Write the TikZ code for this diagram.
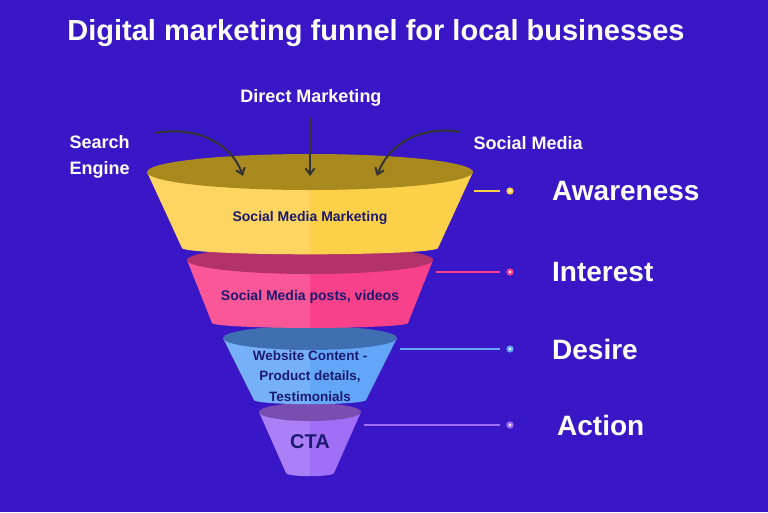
\documentclass[tikz,border=0pt]{standalone}
\usepackage{fontspec}
\setmainfont{Liberation Sans}
\usetikzlibrary{arrows.meta}
\definecolor{bg}{HTML}{3A17C6}
\definecolor{ink}{HTML}{1C1A6E}
\definecolor{yeltop}{HTML}{A8891E}
\definecolor{yelbody}{HTML}{FDD04A}
\definecolor{pinktop}{HTML}{B4326A}
\definecolor{pinkbody}{HTML}{F9408A}
\definecolor{bluetop}{HTML}{3F6FB0}
\definecolor{bluebody}{HTML}{63A6F8}
\definecolor{purptop}{HTML}{7A4DB0}
\definecolor{purpbody}{HTML}{A06FF5}
\tikzset{
  stagetext/.style={text=white,font=\bfseries\fontsize{28}{30}\selectfont,anchor=west,inner sep=0pt},
  sourcetext/.style={text=white,font=\bfseries\fontsize{18}{26}\selectfont},
  layertext/.style={text=ink,font=\bfseries\fontsize{14}{19}\selectfont,align=center},
  feed/.style={draw=black!80,line width=2pt,-{Straight Barb[length=6pt,width=9pt]}},
}
\newcommand{\funnelpart}[8]{% cx, ytop, rtop, rbot, ybot, ry, topcolor, bodycolor
  \fill[#8] (#1-#3,#2) -- (#1-#4,#5) arc[start angle=180,end angle=0,x radius=#4,y radius=#6*0.35] -- (#1+#3,#2) -- cycle;
  \fill[white,opacity=0.12] (#1-#3,#2) -- (#1-#4,#5) arc[start angle=180,end angle=90,x radius=#4,y radius=#6*0.35] -- (#1,#2+#6) -- cycle;
  \fill[#7] (#1,#2) ellipse[x radius=#3,y radius=#6];
}
\begin{document}
\begin{tikzpicture}[x=1pt,y=-1pt]
\fill[bg] (0,0) rectangle (768,512);
\useasboundingbox (0,0) rectangle (768,512);
\node[text=white,font=\bfseries\fontsize{29}{32}\selectfont] (title) at (376,33) {Digital marketing funnel for local businesses};
% funnel, bottom layer first
\funnelpart{310}{412}{51}{24}{473}{9}{purptop}{purpbody}
\funnelpart{310}{338}{87}{56}{400}{12}{bluetop}{bluebody}
\funnelpart{310}{260}{123}{98}{323}{14}{pinktop}{pinkbody}
\funnelpart{310}{172}{163}{128}{248}{18}{yeltop}{yelbody}
\node[layertext] (smm) at (310,218) {Social Media Marketing};
\node[layertext] (posts) at (310,297) {Social Media posts, videos};
\node[layertext,font=\bfseries\fontsize{13.5}{20.5}\selectfont] (web) at (310,376) {Website Content -\\Product details,\\Testimonials};
\node[layertext,font=\bfseries\fontsize{20}{22}\selectfont] (cta) at (310,442) {CTA};
% sources
\node[sourcetext,align=left,anchor=west] (search) at (66,157) {Search\\Engine};
\node[sourcetext] (direct) at (311,98) {Direct Marketing};
\node[sourcetext,anchor=west] (social) at (470,143) {Social Media};
\coordinate (in1) at (243,176);
\coordinate (in2) at (310,176);
\coordinate (in3) at (377,176);
\draw[feed] (155,133) to[out=10,in=110] (in1);
\draw[feed] (310,118) -- (in2);
\draw[feed] (460,132) to[out=170,in=70] (in3);
% stages
\foreach \y/\c/\xs/\name/\txt/\xt in {191/yelbody/474/aw/Awareness/552, 272/pinkbody/436/in/Interest/552, 349/bluebody/400/de/Desire/552, 425/purpbody/364/ac/Action/557}{
  \draw[\c,line width=1.3pt] (\xs,\y) -- (500,\y);
  \fill[\c] (510,\y) circle[radius=3.6];
  \fill[white] (510,\y) circle[radius=1.3];
  \node[stagetext] (\name) at (\xt,\y) {\txt};
}
\end{tikzpicture}
\end{document}
